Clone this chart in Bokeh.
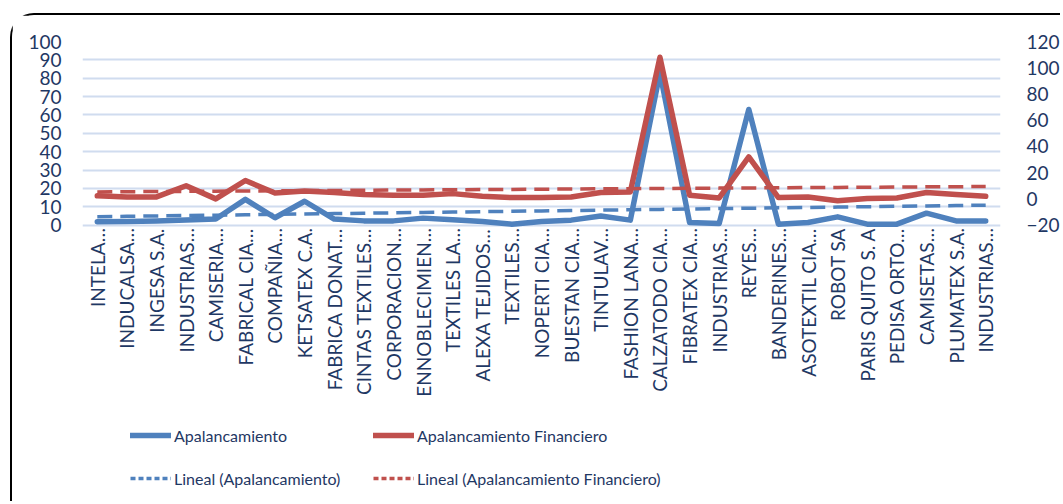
import numpy as np
from bokeh.plotting import figure
from bokeh.models import Range1d, LinearAxis, FixedTicker, Legend, LegendItem, ColumnDataSource
from bokeh.core.properties import value
from bokeh.embed import file_html
from bokeh.resources import INLINE

companies = [
    "INTELA…", "INDUCALSA…", "INGESA S.A.", "INDUSTRIAS…", "CAMISERIA…",
    "FABRICAL CIA…", "COMPAÑIA…", "KETSATEX C.A.", "FABRICA DONAT…", "CINTAS TEXTILES…",
    "CORPORACION…", "ENNOBLECIMIEN…", "TEXTILES LA…", "ALEXA TEJIDOS…", "TEXTILES…",
    "NOPERTI CIA…", "BUESTAN CIA…", "TINTULAV…", "FASHION LANA…", "CALZATODO CIA…",
    "FIBRATEX CIA…", "INDUSTRIAS…", "REYES…", "BANDERINES…", "ASOTEXTIL CIA…",
    "ROBOT SA", "PARIS QUITO S. A", "PEDISA ORTO…", "CAMISETAS…", "PLUMATEX S.A.",
    "INDUSTRIAS…",
]
apalancamiento = [1.8, 2.0, 2.3, 2.8, 3.3, 14.0, 4.0, 13.0, 3.3, 2.3,
                  2.3, 3.8, 2.9, 2.0, 0.5, 2.0, 2.7, 5.0, 2.7, 83.0,
                  1.4, 0.9, 63.0, 0.5, 1.4, 4.5, 0.5, 0.5, 6.5, 2.3, 2.3]
apal_financiero = [2.3, 1.5, 1.5, 10.0, 0.0, 14.0, 4.5, 6.0, 4.8, 3.3,
                   2.8, 2.8, 4.0, 2.0, 1.0, 1.0, 1.5, 4.8, 5.3, 108.0,
                   2.8, 0.7, 32.0, 1.0, 1.5, -1.5, 0.3, 0.7, 4.8, 3.3, 2.0]
left_ticks = [0, 10, 20, 30, 40, 50, 60, 70, 80, 90, 100]
right_ticks = [-20, 0, 20, 40, 60, 80, 100, 120]

BLUE = "#4F81BD"
RED = "#C0504D"
TXT = "#1F3864"
GRID = "#D0DCEF"
FONT = "Lato"

# layout: the plotting frame extends below the value area to hold the labels & legend
W, H = 1050, 488
TOP, LEFT, RIGHT = 26, 70, 57
VALUE_PX = 183.6                      # pixel height of the 0..100 band
frame_h = H - TOP
lo_left = left_ticks[-1] - frame_h * (left_ticks[-1] - left_ticks[0]) / VALUE_PX
scale_r = (right_ticks[-1] - right_ticks[0]) / (left_ticks[-1] - left_ticks[0])
lo_right = right_ticks[0] + (lo_left - left_ticks[0]) * scale_r

n = len(companies)
xs = list(range(n))
# Excel-style linear trendlines (least squares) from the series
cb = np.polyfit(xs, apalancamiento, 1)
cr = np.polyfit(xs, apal_financiero, 1)
trend_a = list(np.polyval(cb, xs))
trend_f = list(np.polyval(cr, xs))

src = ColumnDataSource(dict(x=xs, a=apalancamiento, f=apal_financiero, ta=trend_a, tf=trend_f,
                            name=companies, y0=[left_ticks[0]] * n))

p = figure(width=W, height=H, output_backend="svg", toolbar_location=None,
           x_range=Range1d(-0.5, n - 0.5), y_range=Range1d(lo_left, left_ticks[-1]),
           min_border_left=LEFT, min_border_right=RIGHT, min_border_top=TOP, min_border_bottom=0)
p.margin = (13, 0, 0, 10)
p.styles = {"border-left": "2px solid #000", "border-top": "2px solid #000",
            "border-top-left-radius": "24px"}
p.outline_line_color = None
p.background_fill_color = "white"
p.border_fill_color = "white"
p.extra_y_ranges = {"fin": Range1d(lo_right, right_ticks[-1])}

p.xaxis.visible = False
p.yaxis.ticker = FixedTicker(ticks=left_ticks)
ax_r = LinearAxis(y_range_name="fin", ticker=FixedTicker(ticks=right_ticks))
p.add_layout(ax_r, "right")

for ax in [p.yaxis[0], ax_r]:
    ax.axis_line_color = None
    ax.major_tick_line_color = None
    ax.minor_tick_line_color = None
    ax.major_label_text_font = FONT
    ax.major_label_text_color = TXT
    ax.major_label_text_font_size = "19px"
p.yaxis[0].major_label_standoff = 15
ax_r.major_label_standoff = 20

p.xgrid.grid_line_color = None
p.ygrid.grid_line_color = GRID
p.ygrid.grid_line_width = 1.8
p.ygrid.ticker = FixedTicker(ticks=left_ticks)

# category labels (vertical, reading upward, ending at the zero line)
p.text("x", "y0", text="name", source=src, angle=np.pi / 2, text_align="right",
       text_baseline="middle", y_offset=3, text_font=value(FONT),
       text_font_size=value("19px"), text_color=TXT)

r_a = p.line("x", "a", source=src, line_color=BLUE, line_width=5.5, line_join="round", line_cap="round")
r_ta = p.line("x", "ta", source=src, line_color=BLUE, line_width=3.5, line_dash="15 8")
r_f = p.line("x", "f", source=src, line_color=RED, line_width=5.5, line_join="round", line_cap="round",
             y_range_name="fin")
r_tf = p.line("x", "tf", source=src, line_color=RED, line_width=3.5, line_dash="15 8",
              y_range_name="fin")
# legend-only keys (no visible data) with the shorter dash used by the legend
k_ta = p.line(x=[np.nan], y=[np.nan], line_color=BLUE, line_width=3.5, line_dash="5 3")
k_tf = p.line(x=[np.nan], y=[np.nan], line_color=RED, line_width=3.5, line_dash="5 3")

def make_legend(items, loc):
    lg = Legend(items=items, orientation="horizontal", location=loc,
                glyph_width=41, glyph_height=20, label_height=20, label_standoff=3,
                label_width=199, spacing=0, padding=0, margin=0,
                border_line_color=None, background_fill_alpha=0,
                label_text_font=FONT, label_text_font_size="16px", label_text_color=TXT)
    p.add_layout(lg)

make_legend([LegendItem(label="Apalancamiento", renderers=[r_a]),
             LegendItem(label="Apalancamiento Financiero", renderers=[r_f])], (48, 58))
make_legend([LegendItem(label="Lineal (Apalancamiento)", renderers=[k_ta]),
             LegendItem(label="Lineal (Apalancamiento Financiero)", renderers=[k_tf])], (48, 15))

open("out.html", "w").write(file_html(p, INLINE))
